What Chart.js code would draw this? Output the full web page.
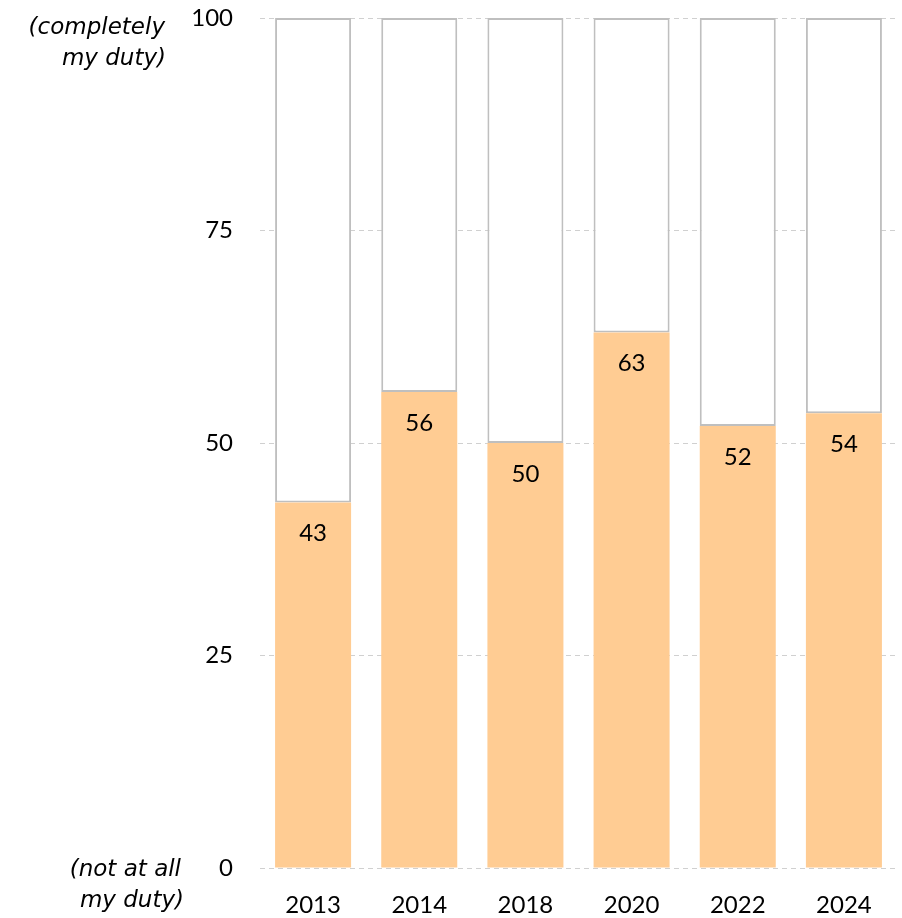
<!DOCTYPE html>
<html>
<head>
<meta charset="utf-8">
<script src="https://cdn.jsdelivr.net/npm/chart.js@4"></script>
<style>
  body { margin: 0; background: #fff; }
</style>
</head>
<body>
<canvas id="dutyChart" width="902" height="918"></canvas>
<script>
// survey years and average score (0 = not at all my duty, 100 = completely)
const years = ["2013", "2014", "2018", "2020", "2022", "2024"];
const scores = [43, 56, 50, 63, 52, 53.5];
const rest = scores.map(v => 100 - v);
const yTicks = [0, 25, 50, 75, 100];
const FONT = "Lato, 'Open Sans', sans-serif";

// value labels inside the orange bars + the two side notes
const extraText = {
  id: "extraText",
  afterDatasetsDraw(chart) {
    const ctx = chart.ctx;
    const meta = chart.getDatasetMeta(0);
    ctx.save();
    ctx.fillStyle = "#000";
    ctx.font = "24px " + FONT;
    ctx.textAlign = "center";
    ctx.textBaseline = "middle";
    meta.data.forEach((bar, i) => {
      ctx.fillText(Math.round(scores[i]), bar.x, bar.y + 31);
    });

    const y = chart.scales.y;
    ctx.font = "italic 23px 'DejaVu Sans', sans-serif";
    ctx.textAlign = "right";
    ctx.fillText("(completely", 165, y.getPixelForValue(100) + 10);
    ctx.fillText("my duty)", 166, y.getPixelForValue(100) + 41);
    ctx.fillText("(not at all", 181, y.getPixelForValue(0) + 2);
    ctx.fillText("my duty)", 184, y.getPixelForValue(0) + 33);
    ctx.restore();
  }
};

new Chart(document.getElementById("dutyChart"), {
  type: "bar",
  data: {
    labels: years,
    datasets: [
      {
        data: scores,
        backgroundColor: "#FFCC93",
        borderWidth: 0,
      },
      {
        data: rest,
        backgroundColor: "#FFFFFF",
        borderColor: "#BFBFBF",
        borderWidth: 2,
        borderSkipped: false,
      },
    ],
  },
  options: {
    responsive: false,
    animation: false,
    layout: { padding: { top: 18, right: 5, left: 0, bottom: 0 } },
    plugins: { legend: { display: false }, tooltip: { enabled: false } },
    datasets: { bar: { categoryPercentage: 1, barPercentage: 0.716 } },
    scales: {
      x: {
        stacked: true,
        grid: { display: false },
        border: { display: false },
        ticks: { color: "#000", font: { family: FONT, size: 24 }, padding: 15 },
        afterFit: scale => { scale.height = 50; },
      },
      y: {
        stacked: true,
        min: 0,
        max: 100,
        afterBuildTicks: scale => { scale.ticks = yTicks.map(v => ({ value: v })); },
        grid: { color: "#D0D0D0", lineWidth: 1, drawTicks: false },
        border: { display: false, dash: [5, 4] },
        ticks: { color: "#000", font: { family: FONT, size: 24 }, padding: 27 },
        afterFit: scale => {
          scale.width = 260;
          scale.paddingTop = 0;
          scale.paddingBottom = 0;
        },
      },
    },
  },
  plugins: [extraText],
});
</script>
</body>
</html>
